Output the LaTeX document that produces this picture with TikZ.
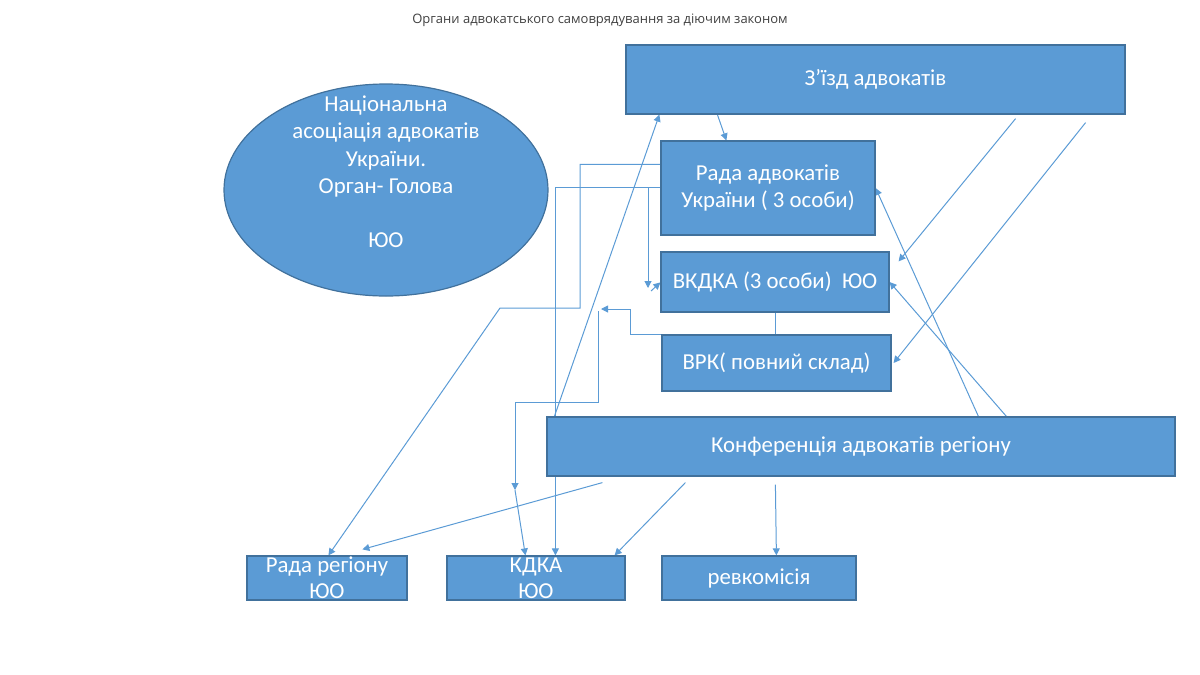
\documentclass[tikz,border=0pt]{standalone}
\usepackage{fontspec}
\setmainfont{Carlito}
\newfontfamily\titlefont{Open Sans}
\usetikzlibrary{arrows.meta,shapes.geometric,backgrounds}
\definecolor{boxblue}{HTML}{5B9BD5}
\definecolor{boxline}{HTML}{41719C}

\begin{document}
\begin{tikzpicture}[x=0.5pt,y=-0.5pt,
		box/.style={draw=boxline,fill=boxblue,line width=0.6pt,text=white,
			font=\fontsize{11.4}{13.2}\selectfont,align=center,inner sep=0pt},
		conn/.style={draw=boxblue,line width=0.5pt},
		arr/.style={conn,-{Triangle[width=3.5pt,length=3.5pt]}}]
		\useasboundingbox	(0,0) rectangle (1200,675);

		\node[font=\titlefont\fontsize{6.5}{8}\selectfont,text=black!75]	(title)		at (600,20)		{Органи адвокатського самоврядування за діючим законом};
		\node[box,ellipse,minimum width=162pt,minimum height=106pt]			(naau)		at (386,190)	{};
		\node[text=white,font=\fontsize{11.4}{13.6}\selectfont,align=center]	(naautext)	at ([yshift=9pt]naau.center)	{Національна\\асоціація адвокатів\\України.\\Орган- Голова\\[13.6pt]ЮО};
		\node[box,minimum width=249.5pt,minimum height=34.5pt]				(zizd)		at (875.5,79.5)	{З’їзд адвокатів};
		\node[box,minimum width=107pt,minimum height=47pt]					(rada)		at (768,188)	{Рада адвокатів\\України ( 3 особи)};
		\node[box,minimum width=114pt,minimum height=30pt]					(vkdka)		at (775,282)	{ВКДКА (3 особи)\ \ ЮО};
		\node[box,minimum width=114.5pt,minimum height=28pt]				(vrk)		at (776.5,363)	{ВРК( повний склад)};
		\node[box,minimum width=314pt,minimum height=29.5pt]				(konf)		at (861,446.5)	{Конференція адвокатів регіону};
		\node[box,minimum width=80pt,minimum height=22pt]					(radareg)	at (327,578)	{Рада регіону\\ЮО};
		\node[box,minimum width=89pt,minimum height=22pt]					(kdka)		at (536,578)	{КДКА\\ЮО};
		\node[box,minimum width=97pt,minimum height=22pt]					(revk)		at (759,578)	{ревкомісія};

		\coordinate	(b1)	at (580,308);
		\coordinate	(b2)	at (500,308);
		\coordinate	(b3)	at (648,288);
		\coordinate	(b4)	at (651,291);
		\coordinate	(b5)	at (630,309);
		\coordinate	(b6)	at (601,309);
		\coordinate	(b7)	at (598,311);
		\coordinate	(b8)	at (598,402);
		\coordinate	(b9)	at (515,490);

		\begin{scope}[on background layer]
		\draw[arr]	([xshift=46pt]zizd.south west)			--	([xshift=33pt]rada.north west);
		\draw[arr]	([yshift=-12pt]rada.north west)			-|	(b1) -- (b2) -- ([xshift=41pt]radareg.north west);
		\draw[arr]	([yshift=-23.5pt]rada.north west)		-|	([xshift=54.5pt]kdka.north west);
		\draw[arr]	([yshift=-23.5pt]rada.north west)		-|	(b3);
		\draw[arr]	(b4)									--	([yshift=-15.5pt]vkdka.north west);
		\draw[arr]	([xshift=4pt]konf.north west)			--	([xshift=17pt]zizd.south west);
		\draw[conn]	(vkdka.south)							--	(vkdka.south |- vrk.north);
		\draw[arr]	(vrk.north west)						-|	(b5) -- (b6);
		\draw[arr]	(b7)									--	(b8) -| (b9);
		\draw[arr]	(b9)									--	([xshift=39.5pt]kdka.north west);
		\draw[arr]	([xshift=28pt,yshift=-3pt]konf.south west)	--	([xshift=58pt,yshift=3pt]radareg.north west);
		\draw[arr]	([xshift=69.5pt,yshift=-3pt]konf.south west)	--	([xshift=-5.5pt]kdka.north east);
		\draw[arr]	([xshift=114.5pt,yshift=-4pt]konf.south west)	--	([xshift=57.5pt]revk.north west);
		\draw[arr]	([xshift=-55pt,yshift=-2pt]zizd.south east)	--	([xshift=4.5pt,yshift=-5pt]vkdka.north east);
		\draw[arr]	([xshift=-20pt,yshift=-4pt]zizd.south east)	--	([xshift=1pt]vrk.east);
		\draw[arr]	([xshift=216pt]konf.north west)			--	(rada.east);
		\draw[arr]	([xshift=230pt]konf.north west)			--	(vkdka.east);
		\end{scope}
	\end{tikzpicture}
\end{document}
